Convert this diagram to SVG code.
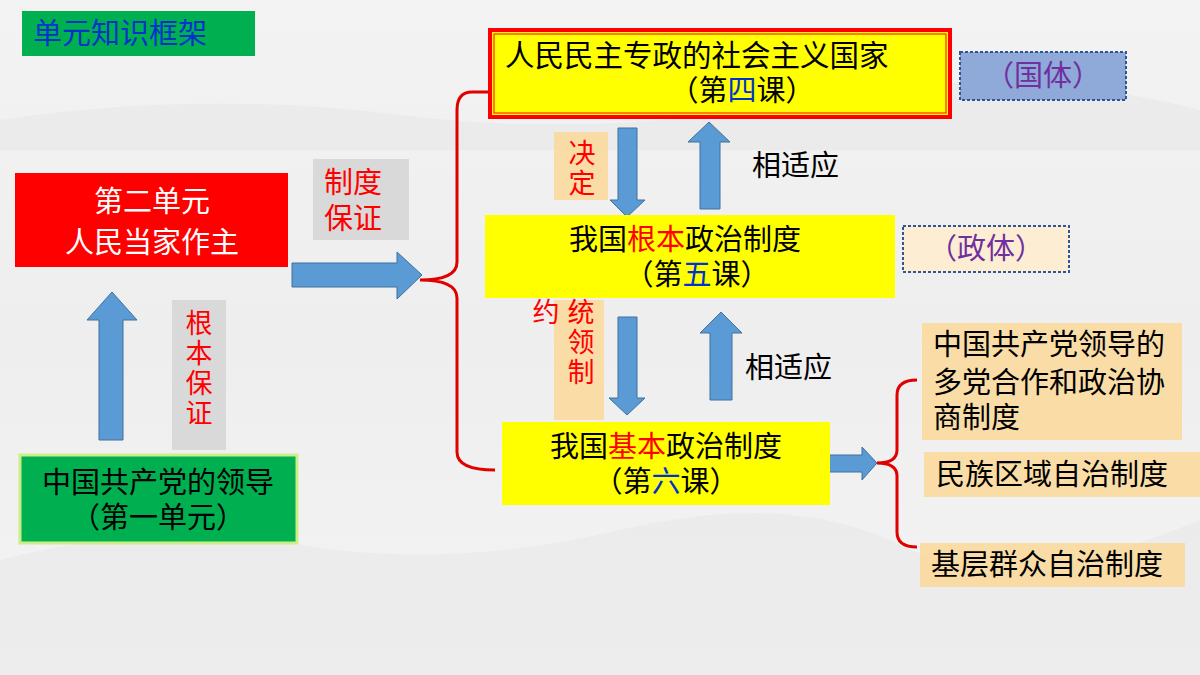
<svg xmlns="http://www.w3.org/2000/svg" width="1200" height="675" viewBox="0 0 1200 675">
<defs>
<style>
text{font-family:"Noto Sans CJK SC","Liberation Serif",sans-serif;font-size:29px;fill:#000}
.c{text-anchor:middle}
.r{fill:#ff0000}
.b{fill:#0033cc}
.p{fill:#7030a0}
.v{font-size:27px;writing-mode:vertical-rl;letter-spacing:3px}
.arrow{fill:#5b9bd5;stroke:#41719c;stroke-width:1}
.beige{fill:#fbd89a;opacity:0.85}
.gray{fill:#d9d9d9}
.yel{fill:#ffff00}
.br{fill:none;stroke:#e00000;stroke-width:3}
</style>
<linearGradient id="bg" x1="0" y1="0" x2="0" y2="1">
<stop offset="0" stop-color="#f3f3f3"/><stop offset="0.5" stop-color="#eeeeee"/><stop offset="1" stop-color="#f4f4f4"/>
</linearGradient>
</defs>
<rect width="1200" height="675" fill="url(#bg)"/>
<path d="M0 560 Q150 520 300 545 T620 530 T900 545 T1200 520 V675 H0Z" fill="#e8e8e8" opacity="0.6"/>
<path d="M0 120 Q200 90 400 115 T800 100 T1200 110 V150 H0Z" fill="#e6e6e6" opacity="0.5"/>

<g id="title"><rect x="22" y="11" width="233" height="45" fill="#00b050"/><text x="33" y="44" class="b">单元知识框架</text></g>

<g id="connectors">
<path class="br" d="M492 92 H472 Q457 92 457 110 V262 Q457 280 420 280 Q457 280 457 298 V452 Q457 470 495 470"/>
<path class="br" d="M917 380 Q897 380 897 395 V450 Q897 463 877 463 Q897 463 897 476 V532 Q897 547 917 547"/>
<path class="arrow" d="M292 263 H397 V252 L422 275 L397 299 V287 H292Z"/>
<path class="arrow" d="M99 440 V320 H87 L112 292 L137 320 H123 V440Z"/>
<path class="arrow" d="M618 128 H637 V200 H645 L627 217 L610 200 H618Z"/>
<path class="arrow" d="M700 209 V142 H688 L709 122 L730 142 H720 V209Z"/>
<path class="arrow" d="M618 317 H637 V398 H645 L627 415 L609 398 H618Z"/>
<path class="arrow" d="M710 400 V333 H700 L721 312 L742 333 H732 V400Z"/>
<path class="arrow" d="M829 455 H862 V447 L877 463 L862 480 V472 H829Z"/>
</g>

<g id="unit2"><rect x="15" y="173" width="273" height="94" fill="#ff0000"/><text class="c" style="fill:#fff"><tspan x="152" y="212">第二单元</tspan><tspan x="152" y="253">人民当家作主</tspan></text></g>
<g id="zdbz"><rect x="313" y="159" width="96" height="81" class="gray"/><text class="c r"><tspan x="353" y="193">制度</tspan><tspan x="353" y="229">保证</tspan></text></g>
<g id="gbbz"><rect x="172" y="300" width="54" height="150" class="gray"/>
<text x="199" y="309" class="r v">根本保证</text></g>
<g id="party"><rect x="20" y="455" width="277" height="88" fill="#00b050" stroke="#ccee88" stroke-width="3"/><text class="c"><tspan x="158" y="493">中国共产党的领导</tspan><tspan x="158" y="528">（第一单元）</tspan></text></g>

<g id="state"><rect x="490" y="30" width="460" height="87" class="yel" stroke="#ff0000" stroke-width="4"/><rect x="494" y="34" width="452" height="79" fill="none" stroke="#ff0000" stroke-width="1"/>
<text style="font-size:29.5px"><tspan x="505" y="66">人民民主专政的社会主义国家</tspan><tspan x="742" y="101" text-anchor="middle" style="font-size:29px">（第<tspan class="b">四</tspan>课）</tspan></text></g>
<g id="guoti"><rect x="960" y="52" width="166" height="48" fill="#8fa9d9" stroke="#2f5597" stroke-width="2" stroke-dasharray="3 2"/><text x="1043" y="86" class="c p">（国体）</text></g>
<g id="jueding"><rect x="554" y="132" width="54" height="68" class="beige"/><text x="582" y="139" class="r v">决定</text></g>
<text x="752" y="176">相适应</text>

<g id="genben"><rect x="485" y="215" width="410" height="83" class="yel"/><text class="c"><tspan x="685" y="250">我国<tspan class="r">根本</tspan>政治制度</tspan><tspan x="697" y="285">（第<tspan class="b">五</tspan>课）</tspan></text></g>
<g id="zhengti"><rect x="903" y="226" width="166" height="46" fill="#fdeed3" stroke="#2f5597" stroke-width="2" stroke-dasharray="3 2"/><text x="986" y="259" class="c p">（政体）</text></g>

<g id="yueshu"><rect x="554" y="300" width="50" height="120" class="beige"/>
<text x="546" y="322" class="c r" style="font-size:27px">约</text><text x="581" y="298" class="r v">统领制</text></g>
<text x="745" y="378">相适应</text>

<g id="jiben"><rect x="502" y="422" width="328" height="83" class="yel"/><text class="c"><tspan x="666" y="457">我国<tspan class="r">基本</tspan>政治制度</tspan><tspan x="666" y="492">（第<tspan class="b">六</tspan>课）</tspan></text></g>

<g id="s1"><rect x="922" y="323" width="260" height="117" class="beige"/><text><tspan x="933" y="355">中国共产党领导的</tspan><tspan x="933" y="393">多党合作和政治协</tspan><tspan x="933" y="428">商制度</tspan></text></g>
<g id="s2"><rect x="924" y="452" width="276" height="45" class="beige"/><text x="936" y="485">民族区域自治制度</text></g>
<g id="s3"><rect x="920" y="543" width="265" height="44" class="beige"/><text x="931" y="575">基层群众自治制度</text></g>
</svg>
